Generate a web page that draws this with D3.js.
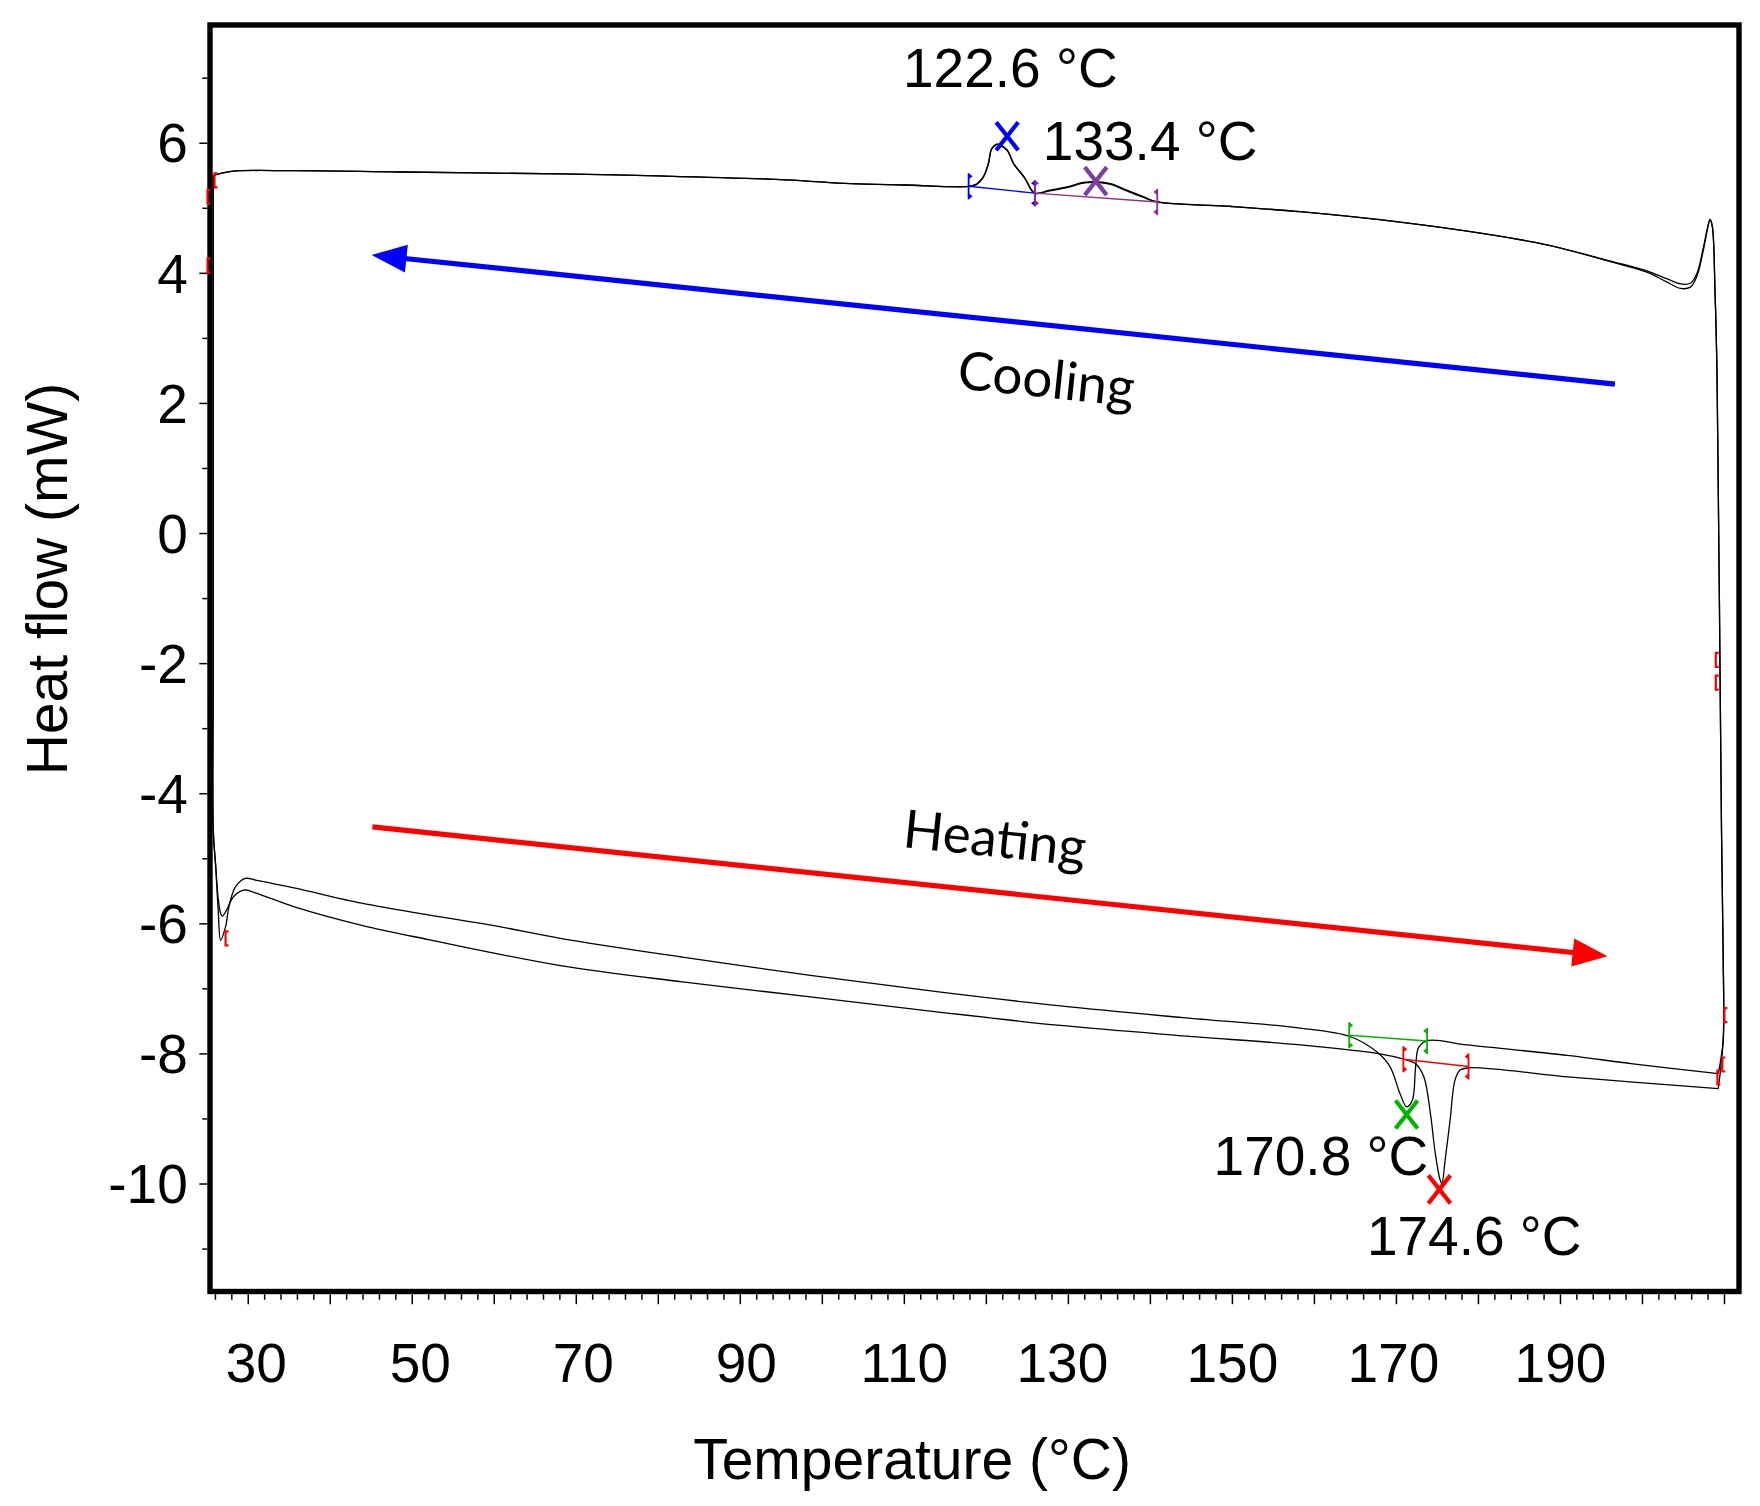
<!DOCTYPE html>
<html><head><meta charset="utf-8">
<script src="https://cdn.jsdelivr.net/npm/d3@7"></script>
<style>body{margin:0;background:#fff}svg{display:block}</style>
</head><body>
<svg id="chart" width="1760" height="1506"></svg>
<script>
// ---------- DATA: [temperature °C, heat flow mW] ----------
const heatingRun1 = [
  [25.8,5.50],[25.8,2.0],[25.8,-2.0],[25.8,-4.57],[26.1,-5.13],[26.4,-5.62],[26.7,-5.85],[26.9,-5.89],
  [27.6,-5.75],[28.5,-5.44],[29.7,-5.31],[31.1,-5.34],[35.8,-5.46],[43.9,-5.69],[52.0,-5.87],[60.2,-6.04],
  [68.1,-6.23],[83.0,-6.52],[98.6,-6.80],[114.0,-7.05],[129.1,-7.27],[144.0,-7.45],[158.3,-7.61],
  [164.4,-7.74],[167.7,-7.98],[169.3,-8.21],[170.5,-8.62],[171.3,-8.82],[172.0,-8.72],[172.4,-8.21],
  [172.8,-7.90],[174.0,-7.80],[178.7,-7.87],[190.9,-8.03],[198.9,-8.16],[209.3,-8.31]
];
const heatingRun2 = [
  [25.8,5.50],[25.8,2.0],[25.8,-2.0],[25.8,-4.57],[26.1,-5.13],[26.4,-5.80],[26.7,-6.26],[27.3,-6.05],
  [28.0,-5.64],[29.5,-5.49],[30.9,-5.53],[35.8,-5.75],[43.9,-6.03],[52.0,-6.25],[68.1,-6.65],[83.0,-6.90],
  [98.6,-7.13],[114.0,-7.36],[129.1,-7.57],[144.0,-7.73],[158.4,-7.87],[168.2,-8.01],[170.7,-8.08],
  [172.4,-8.16],[173.4,-8.36],[174.2,-8.92],[174.8,-9.54],[175.4,-9.95],[175.6,-10.00],[176.0,-9.64],
  [176.6,-9.03],[177.2,-8.41],[177.8,-8.26],[178.9,-8.22],[190.9,-8.36],[198.9,-8.44],[209.3,-8.54]
];
const coolingRun1 = [
  [209.3,-8.31],[209.9,-7.80],[209.9,-6.50],[209.7,-4.60],[209.44,-1.03],[209.24,1.43],[209.12,2.66],
  [208.91,3.69],[208.58,4.71],[208.3,4.82],[208.0,4.70],[207.5,4.40],[206.7,3.99],[205.9,3.84],
  [204.7,3.83],[203.0,3.91],[200.6,4.03],[196.5,4.17],[188.4,4.43],[180.3,4.61],[170.5,4.78],
  [158.3,4.94],[150.0,5.02],[140.9,5.09],[139.2,5.17],[137.2,5.27],[135.2,5.37],[133.5,5.40],
  [131.9,5.39],[129.9,5.32],[127.8,5.27],[126.0,5.22],[125.6,5.27],[124.8,5.45],[124.2,5.55],
  [123.4,5.68],[122.6,5.89],[121.7,5.97],[121.3,5.98],[120.7,5.91],[120.3,5.68],[119.7,5.48],
  [118.9,5.37],[117.9,5.33],[110.0,5.35],[103.5,5.37],[95.6,5.43],[80.0,5.49],[68.2,5.52],
  [48.6,5.55],[35.6,5.57],[28.0,5.56],[25.8,5.50]
];
const coolingRun2 = [
  [209.3,-8.54],[209.9,-7.80],[209.9,-6.50],[209.7,-4.60],[209.44,-1.03],[209.24,1.43],[209.12,2.66],
  [208.91,3.69],[208.58,4.71],[208.3,4.82],[208.0,4.68],[207.5,4.36],[206.7,3.95],[205.9,3.78],
  [204.7,3.76],[203.0,3.86],[200.6,4.01],[196.5,4.16],[188.4,4.43],[180.3,4.61],[170.5,4.78],
  [158.3,4.94],[150.0,5.02],[140.9,5.09],[139.2,5.16],[137.2,5.26],[135.2,5.36],[133.5,5.39],
  [131.9,5.38],[129.9,5.31],[127.8,5.26],[126.0,5.22],[125.6,5.26],[124.8,5.44],[124.2,5.54],
  [123.4,5.67],[122.6,5.88],[121.7,5.96],[121.3,5.97],[120.7,5.90],[120.3,5.67],[119.7,5.47],
  [118.9,5.36],[117.9,5.33],[110.0,5.35],[103.5,5.37],[95.6,5.43],[80.0,5.49],[68.2,5.52],
  [48.6,5.55],[35.6,5.57],[28.0,5.56],[25.8,5.50]
];

// peak analysis: integration baselines [start, end] and peak marks
const peakBaselines = [
  {color:"#0000ff", from:[117.9,5.33], to:[126.0,5.225]},
  {color:"#8b2f8f", from:[126.0,5.225], to:[140.9,5.09]},
  {color:"#00b400", from:[164.3,-7.72], to:[173.8,-7.81]},
  {color:"#ff0000", from:[170.9,-8.09], to:[178.85,-8.20]}
];
const peakMarks = [
  {color:"#0000ff", t:122.6, v:6.10},
  {color:"#7b3fa0", t:133.4, v:5.41},
  {color:"#00b400", t:171.3, v:-8.94},
  {color:"#ff0000", t:175.3, v:-10.09}
];
const peakLabels = [
  {text:"122.6 °C", t:109.9, v:6.85, anchor:"start"},
  {text:"133.4 °C", t:126.95, v:5.73, anchor:"start"},
  {text:"170.8 °C", t:173.94, v:-9.87, anchor:"end"},
  {text:"174.6 °C", t:166.46, v:-11.10, anchor:"start"}
];
// small red step markers on the curves
const stepMarks = [
  [25.95,5.42],[25.1,5.17],[25.1,4.11],[27.3,-6.23],[209.0,-1.95],[209.0,-2.30],
  [210.05,-7.41],[209.8,-8.17],[209.2,-8.37]
];
// direction arrows
const arrows = [
  {label:"Cooling", color:"#0000ff", from:[196.7,2.29], to:[45.1,4.273], textAt:[127.35,2.33]},
  {label:"Heating", color:"#ff0000", from:[45.2,-4.517], to:[195.8,-6.505], textAt:[121.07,-4.73]}
];
const xMajorTicks = [30,40,50,60,70,80,90,100,110,120,130,140,150,160,170,180,190,200,210];
const xTickLabels = [30,50,70,90,110,130,150,170,190];
const xLabelNudge = {30:8, 50:8, 70:7, 90:6, 110:0, 130:-6, 150:0, 170:-3, 190:0};
const yTickLabels = [-10,-8,-6,-4,-2,0,2,4,6];
const yMinorTicks = [-11,-9,-7,-5,-3,-1,1,3,5,7];
const xMinorTicks = d3.range(26,211,2).filter(d => d % 10 !== 0);

// ---------- SCALES ----------
const svg = d3.select("#chart");
const x = d3.scaleLinear().domain([25.4, 211.83]).range([210, 1739]);
const y = d3.scaleLinear().domain([-11.66, 7.81]).range([1291.5, 25]);
const FONT = "'Liberation Sans', Arial, sans-serif";

svg.append("rect").attr("width",1760).attr("height",1506).attr("fill","#fff");

// frame
svg.append("rect").attr("x",210).attr("y",25).attr("width",1529).attr("height",1266.5)
  .attr("fill","none").attr("stroke","#000").attr("stroke-width",5.4);

// axes
const gx = svg.append("g").attr("transform","translate(0,1294.2)");
gx.call(d3.axisBottom(x).tickValues(xMajorTicks).tickSize(10)
  .tickFormat(d => xTickLabels.includes(d) ? String(d) : ""));
gx.append("g").call(d3.axisBottom(x).tickValues(xMinorTicks).tickSize(5.5).tickFormat(""));
gx.selectAll(".domain").remove();
gx.selectAll("line").attr("stroke","#000").attr("stroke-width",1.5);
gx.selectAll("text").attr("y",88).attr("dy",0).attr("dx",d => xLabelNudge[d] || 0)
  .attr("font-family",FONT).attr("font-size",55).attr("fill","#000");

const gy = svg.append("g").attr("transform","translate(207.3,0)");
gy.call(d3.axisLeft(y).tickValues(yTickLabels).tickSize(8).tickFormat(d => String(d)));
gy.append("g").call(d3.axisLeft(y).tickValues(yMinorTicks).tickSize(5).tickFormat(""));
gy.selectAll(".domain").remove();
gy.selectAll("line").attr("stroke","#000").attr("stroke-width",1.5);
gy.selectAll("text").attr("x",-19.5).attr("dy","0.35em").attr("font-family",FONT).attr("font-size",55).attr("fill","#000");

// axis titles
svg.append("text").attr("x",912).attr("y",1479).attr("text-anchor","middle")
  .attr("font-family",FONT).attr("font-size",57).text("Temperature (°C)");
svg.append("text").attr("transform","translate(67,579) rotate(-90)").attr("text-anchor","middle")
  .attr("font-family",FONT).attr("font-size",57).text("Heat flow (mW)");

// curves
const line = d3.line().x(d => x(d[0])).y(d => y(d[1])).curve(d3.curveCatmullRom.alpha(0.5));
[heatingRun1, heatingRun2, coolingRun1, coolingRun2].forEach(run => {
  svg.append("path").datum(run).attr("d", line).attr("fill","none")
    .attr("stroke","#000").attr("stroke-width",1.3).attr("stroke-linejoin","round");
});

// integration baselines with end markers
peakBaselines.forEach(b => {
  const x0 = x(b.from[0]), y0 = y(b.from[1]), x1 = x(b.to[0]), y1 = y(b.to[1]);
  svg.append("line").attr("x1",x0).attr("y1",y0).attr("x2",x1).attr("y2",y1)
    .attr("stroke",b.color).attr("stroke-width",1.4);
  [[x0,y0,1],[x1,y1,-1]].forEach(([px,py,s]) => {
    const g = svg.append("g").attr("fill",b.color).attr("stroke",b.color);
    g.append("line").attr("x1",px).attr("x2",px).attr("y1",py-13).attr("y2",py+13).attr("stroke-width",1.8);
    g.append("path").attr("stroke","none")
      .attr("d",`M${px},${py-13}l${4*s},3l${-4*s},3z M${px},${py+13}l${4*s},-3l${-4*s},-3z`);
  });
});

// step markers
stepMarks.forEach(([t,v]) => {
  const px = x(t), py = y(v);
  svg.append("path").attr("d",`M${px+3},${py-7}H${px}V${py+7}H${px+3}`)
    .attr("fill","none").attr("stroke","#ff0000").attr("stroke-width",2.2);
});

// peak X marks (drawn as cross symbols)
svg.selectAll(".pm").data(peakMarks).join("path").attr("class","pm")
  .attr("transform",d => `translate(${x(d.t)},${y(d.v)})`)
  .attr("d","M-11,-14L11,14M11,-14L-11,14")
  .attr("fill","none").attr("stroke",d => d.color).attr("stroke-width",4.2);

// peak labels
svg.selectAll(".pl").data(peakLabels).join("text").attr("class","pl")
  .attr("x",d => x(d.t)).attr("y",d => y(d.v)).attr("text-anchor",d => d.anchor)
  .attr("font-family",FONT).attr("font-size",55).attr("fill","#000").text(d => d.text);

// arrows
arrows.forEach(a => {
  const sx = x(a.from[0]), sy = y(a.from[1]), tx = x(a.to[0]), ty = y(a.to[1]);
  const len = Math.hypot(tx-sx, ty-sy), ux = (tx-sx)/len, uy = (ty-sy)/len;
  const hl = 35, hw = 14;
  const bx = tx - ux*hl, by = ty - uy*hl;
  svg.append("line").attr("x1",sx).attr("y1",sy).attr("x2",bx+ux*2).attr("y2",by+uy*2)
    .attr("stroke",a.color).attr("stroke-width",5.2);
  svg.append("path").attr("fill",a.color)
    .attr("d",`M${tx},${ty}L${bx-uy*hw},${by+ux*hw}L${bx+uy*hw},${by-ux*hw}Z`);
  const ang = Math.atan2(ty-sy, tx-sx) * 180/Math.PI;
  const rot = Math.abs(ang) > 90 ? ang - 180 * Math.sign(ang) : ang;
  svg.append("text").attr("transform",`translate(${x(a.textAt[0])},${y(a.textAt[1])}) rotate(${rot})`)
    .attr("text-anchor","middle").attr("dy","0.3em").attr("font-family","Lato, 'Noto Sans', sans-serif")
    .attr("font-size",53).attr("fill","#000").text(a.label);
});
</script>
</body></html>
